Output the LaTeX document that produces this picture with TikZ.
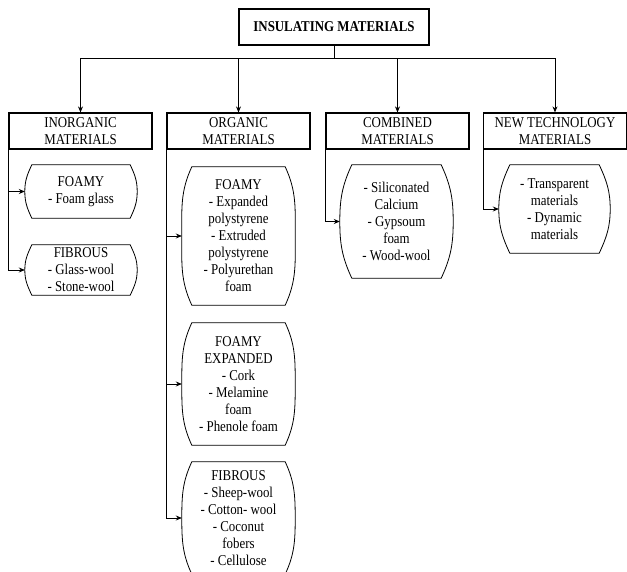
\documentclass[tikz,border=0pt]{standalone}
\usepackage{fontspec}
\setmainfont{Liberation Serif}[FakeStretch=0.86]
\usetikzlibrary{arrows.meta}
% outline with bulging sides round a named node
\newcommand{\barrel}[2]{%
\draw[line width=0.8pt] ([xshift=#2]#1.north west) -- ([xshift=-#2]#1.north east)
  to[out=-65,in=90] (#1.east) to[out=-90,in=65] ([xshift=-#2]#1.south east)
  -- ([xshift=#2]#1.south west) to[out=115,in=-90] (#1.west)
  to[out=90,in=-115] cycle;}

\begin{document}
\begin{tikzpicture}[x=1pt,y=1pt]
\tikzset{titre/.style={draw, line width=1.2pt, minimum width=190pt, minimum height=36pt, font=\fontsize{15}{16}\selectfont\bfseries},
entete/.style={draw, line width=1.2pt, minimum width=143pt, minimum height=36pt, inner sep=0pt, align=center, font=\fontsize{15}{16.5}\selectfont},
feuille/.style={inner sep=0pt, minimum width=113pt, align=center, font=\fontsize{15}{17}\selectfont},
fleche/.style={-{Stealth[length=6pt,width=5pt]}, line width=0.8pt}}
\useasboundingbox (0,0) rectangle (627,-572);
\clip (0,0) rectangle (627,-572);
\fill[white] (0,0) rectangle (627,-572);
\node[titre] (T) at (334,-27) {INSULATING MATERIALS};
\node[entete] (M1) at (80.5,-131) {INORGANIC\\MATERIALS};
\node[entete] (M2) at (238.5,-131) {ORGANIC\\MATERIALS};
\node[entete] (M3) at (397.5,-131) {COMBINED\\MATERIALS};
\node[entete] (M4) at (555,-131) {NEW TECHNOLOGY\\MATERIALS};
\coordinate (B) at (334,-58);
\draw[line width=0.8pt] (T) -- (B);
\draw[fleche] (B) -| (M1);
\draw[fleche] (B) -| (M2);
\draw[fleche] (B) -| (M3);
\draw[fleche] (B) -| (M4);
% inorganic
\node[feuille, minimum width=112pt, minimum height=53pt] (I1) at (81,-191.5) {FOAMY\\- Foam glass};
\node[feuille, minimum width=112pt, minimum height=50pt] (I2) at (81,-270) {FIBROUS\\- Glass-wool\\- Stone-wool};
\barrel{I1}{7pt}
\barrel{I2}{7pt}
\draw[fleche] (M1.south west) |- (I1.west);
\draw[fleche] (M1.south west) |- (I2.west);
% organic
\node[feuille, minimum height=138pt] (O1) at (238.5,-236) {FOAMY\\- Expanded\\polystyrene\\- Extruded\\polystyrene\\- Polyurethan\\foam};
\node[feuille, minimum height=122pt] (O2) at (238.5,-384) {FOAMY\\EXPANDED\\- Cork\\- Melamine\\foam\\- Phenole foam};
\node[feuille, minimum height=112pt] (O3) at (238.5,-518) {FIBROUS\\- Sheep-wool\\- Cotton- wool\\- Coconut\\fobers\\- Cellulose};
\barrel{O1}{10pt}
\barrel{O2}{10pt}
\barrel{O3}{10pt}
\draw[fleche] (M2.south west) |- (O1.west);
\draw[fleche] (M2.south west) |- (O2.west);
\draw[fleche] (M2.south west) |- (O3.west);
% combined
\node[feuille, minimum height=113pt] (C1) at (396.5,-221.5) {- Siliconated\\Calcium\\- Gypsoum\\foam\\- Wood-wool};
\barrel{C1}{12pt}
\draw[fleche] (M3.south west) |- (C1.west);
% new technology
\node[feuille, minimum width=111pt, minimum height=88pt] (N1) at (554.5,-209) {- Transparent\\materials\\- Dynamic\\materials};
\barrel{N1}{11pt}
\draw[fleche] (M4.south west) |- (N1.west);
\end{tikzpicture}
\end{document}
